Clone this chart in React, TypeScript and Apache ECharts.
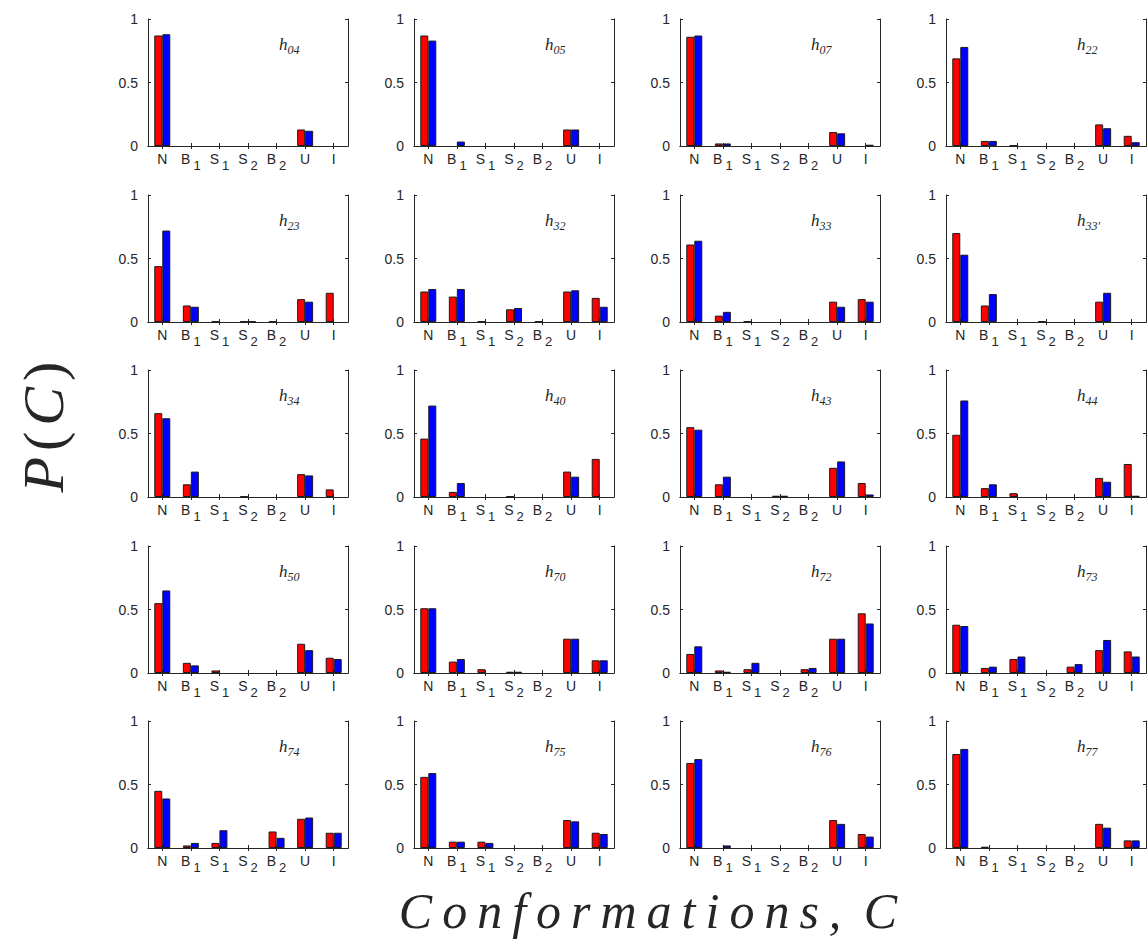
import React, { useEffect, useRef } from 'react';
import * as echarts from 'echarts';

const categories = ['N', 'B1', 'S1', 'S2', 'B2', 'U', 'I'];
const panelNames = ['04', '05', '07', '22', '23', '32', '33', '33′', '34', '40', '43', '44', '50', '70', '72', '73', '74', '75', '76', '77'];
const yTicks = [0, 0.5, 1];

// red bars, one row per panel, order N, B1, S1, S2, B2, U, I
const redSeries: number[][] = [
  [0.87, 0, 0, 0, 0, 0.13, 0],
  [0.87, 0, 0, 0, 0, 0.13, 0],
  [0.86, 0.02, 0, 0, 0, 0.11, 0],
  [0.69, 0.04, 0.005, 0, 0, 0.17, 0.08],
  [0.44, 0.13, 0.005, 0.005, 0.005, 0.18, 0.23],
  [0.24, 0.2, 0.005, 0.1, 0.005, 0.24, 0.19],
  [0.61, 0.05, 0.005, 0, 0, 0.16, 0.18],
  [0.7, 0.13, 0, 0.005, 0, 0.16, 0],
  [0.66, 0.1, 0, 0.005, 0, 0.18, 0.06],
  [0.46, 0.04, 0, 0.005, 0, 0.2, 0.3],
  [0.55, 0.1, 0, 0.01, 0, 0.23, 0.11],
  [0.49, 0.07, 0.03, 0, 0, 0.15, 0.26],
  [0.55, 0.08, 0.02, 0, 0, 0.23, 0.12],
  [0.51, 0.09, 0.03, 0.01, 0, 0.27, 0.1],
  [0.15, 0.02, 0.03, 0, 0.03, 0.27, 0.47],
  [0.38, 0.04, 0.11, 0, 0.05, 0.18, 0.17],
  [0.45, 0.02, 0.04, 0, 0.13, 0.23, 0.12],
  [0.56, 0.05, 0.05, 0, 0, 0.22, 0.12],
  [0.67, 0, 0, 0, 0, 0.22, 0.11],
  [0.74, 0.01, 0, 0, 0, 0.19, 0.06],
];

// blue bars, one row per panel
const blueSeries: number[][] = [
  [0.88, 0, 0, 0, 0, 0.12, 0],
  [0.83, 0.035, 0, 0, 0, 0.13, 0],
  [0.87, 0.02, 0, 0, 0, 0.1, 0.01],
  [0.78, 0.04, 0, 0, 0, 0.14, 0.03],
  [0.72, 0.12, 0, 0.005, 0, 0.16, 0],
  [0.26, 0.26, 0, 0.11, 0, 0.25, 0.12],
  [0.64, 0.08, 0, 0, 0, 0.12, 0.16],
  [0.53, 0.22, 0, 0, 0, 0.23, 0],
  [0.62, 0.2, 0, 0, 0, 0.17, 0],
  [0.72, 0.11, 0, 0, 0, 0.16, 0],
  [0.53, 0.16, 0, 0.01, 0, 0.28, 0.02],
  [0.76, 0.1, 0, 0, 0, 0.12, 0.01],
  [0.65, 0.06, 0, 0, 0, 0.18, 0.11],
  [0.51, 0.11, 0, 0.01, 0, 0.27, 0.1],
  [0.21, 0.01, 0.08, 0, 0.04, 0.27, 0.39],
  [0.37, 0.05, 0.13, 0, 0.07, 0.26, 0.13],
  [0.39, 0.04, 0.14, 0, 0.08, 0.24, 0.12],
  [0.59, 0.05, 0.04, 0, 0, 0.21, 0.11],
  [0.7, 0.02, 0, 0, 0, 0.19, 0.09],
  [0.78, 0, 0, 0, 0, 0.16, 0.06],
];

const AXIS = '#262626';
const SANS = "'Liberation Sans'";
const SERIF = "'Liberation Serif'";

function buildOption() {
  const grid: any[] = [];
  const xAxis: any[] = [];
  const yAxis: any[] = [];
  const series: any[] = [];
  const graphic: any[] = [];
  const lineStyle = { color: AXIS, width: 1 };
  const toBars = (vals: number[]) => vals.map((v) => (v === 0 ? null : v));

  panelNames.forEach((name, i) => {
    const r = Math.floor(i / 4);
    const c = i % 4;
    const left = 148 + 266 * c;
    const top = Math.round(19 + 175.5 * r);
    grid.push({ left, top, width: 200, height: 127 });

    xAxis.push({
      type: 'category', gridIndex: i, data: categories, position: 'bottom',
      axisLine: { show: true, lineStyle },
      axisTick: { show: true, inside: true, alignWithLabel: true, length: 3, lineStyle },
      splitLine: { show: false },
      axisLabel: {
        margin: 6,
        interval: 0,
        formatter: (v: string) => (v.length === 2 ? `{m|${v[0]}}{s|${v[1]}}` : `{m|${v}}`),
        rich: {
          m: { fontSize: 14, fontFamily: SANS, color: AXIS, verticalAlign: 'top' },
          s: { fontSize: 13, fontFamily: SANS, color: AXIS, padding: [7, 0, 0, 3], verticalAlign: 'top' },
        },
      },
    });
    xAxis.push({
      type: 'category', gridIndex: i, data: categories, position: 'top',
      axisLine: { show: true, lineStyle },
      axisTick: { show: true, inside: true, alignWithLabel: true, length: 3, lineStyle },
      axisLabel: { show: false },
      splitLine: { show: false },
    });
    yAxis.push({
      type: 'value', gridIndex: i, min: yTicks[0], max: yTicks[yTicks.length - 1], interval: 0.5, position: 'left',
      axisLine: { show: true, lineStyle },
      axisTick: { show: true, inside: true, length: 3, lineStyle },
      splitLine: { show: false },
      axisLabel: { margin: 10, fontSize: 14, fontFamily: SANS, color: AXIS, formatter: (v: number) => String(v) },
    });
    yAxis.push({
      type: 'value', gridIndex: i, min: yTicks[0], max: yTicks[yTicks.length - 1], interval: 0.5, position: 'right',
      axisLine: { show: true, lineStyle },
      axisTick: { show: true, inside: true, length: 3, lineStyle },
      splitLine: { show: false },
      axisLabel: { show: false },
    });

    series.push({
      type: 'bar', xAxisIndex: 2 * i, yAxisIndex: 2 * i, data: toBars(redSeries[i]),
      barWidth: 8, barGap: '0%',
      itemStyle: { color: '#ff0000', borderColor: '#1a1a1a', borderWidth: 1 },
    });
    series.push({
      type: 'bar', xAxisIndex: 2 * i, yAxisIndex: 2 * i, data: toBars(blueSeries[i]),
      barWidth: 8, barGap: '0%',
      itemStyle: { color: '#0000ff', borderColor: '#1a1a1a', borderWidth: 1 },
    });

    graphic.push({
      type: 'text', x: left + 131, y: top + 17, silent: true,
      style: {
        text: `{h|h}{s|${name}}`,
        fill: AXIS,
        rich: {
          h: { fontSize: 17, fontFamily: SERIF, fontStyle: 'italic', fill: AXIS, verticalAlign: 'top' },
          s: { fontSize: 12, fontFamily: SERIF, fontStyle: 'italic', fill: AXIS, padding: [8, 0, 0, 0], verticalAlign: 'top' },
        },
      },
    });
  });

  const xLabel = 'Conformations,'.split('').map((ch) => `{c|${ch}}`).join('') + '{g| }{c|C}';
  graphic.push({
    type: 'text', x: 648, y: 911, silent: true,
    style: {
      text: xLabel,
      align: 'center', verticalAlign: 'middle',
      fill: AXIS,
      rich: {
        c: { fontSize: 50, fontFamily: SERIF, fontStyle: 'italic', fill: AXIS, padding: [0, 5, 0, 5] },
        g: { fontSize: 50, fontFamily: SERIF, fill: AXIS, padding: [0, 0, 0, 0] },
      },
    },
  });
  graphic.push({
    type: 'text', x: 43, y: 428, rotation: Math.PI / 2, silent: true,
    style: {
      text: '{i|P}{u|(}{i|C}{u|)}',
      align: 'center', verticalAlign: 'middle',
      fill: AXIS,
      rich: {
        i: { fontSize: 58, fontFamily: SERIF, fontStyle: 'italic', fill: AXIS, padding: [0, 4, 0, 4] },
        u: { fontSize: 58, fontFamily: SERIF, fill: AXIS, padding: [0, 2, 0, 2] },
      },
    },
  });

  return {
    animation: false,
    backgroundColor: '#ffffff',
    grid, xAxis, yAxis, series, graphic,
  };
}

export default function App() {
  const ref = useRef<HTMLDivElement>(null);
  useEffect(() => {
    if (!ref.current) return;
    const chart = echarts.init(ref.current, undefined, { renderer: 'svg' });
    chart.setOption(buildOption() as any);
    return () => chart.dispose();
  }, []);
  return (
    <div
      ref={ref}
      style={{ position: 'absolute', left: 0, top: 0, width: 1148, height: 951, background: '#fff' }}
    />
  );
}
